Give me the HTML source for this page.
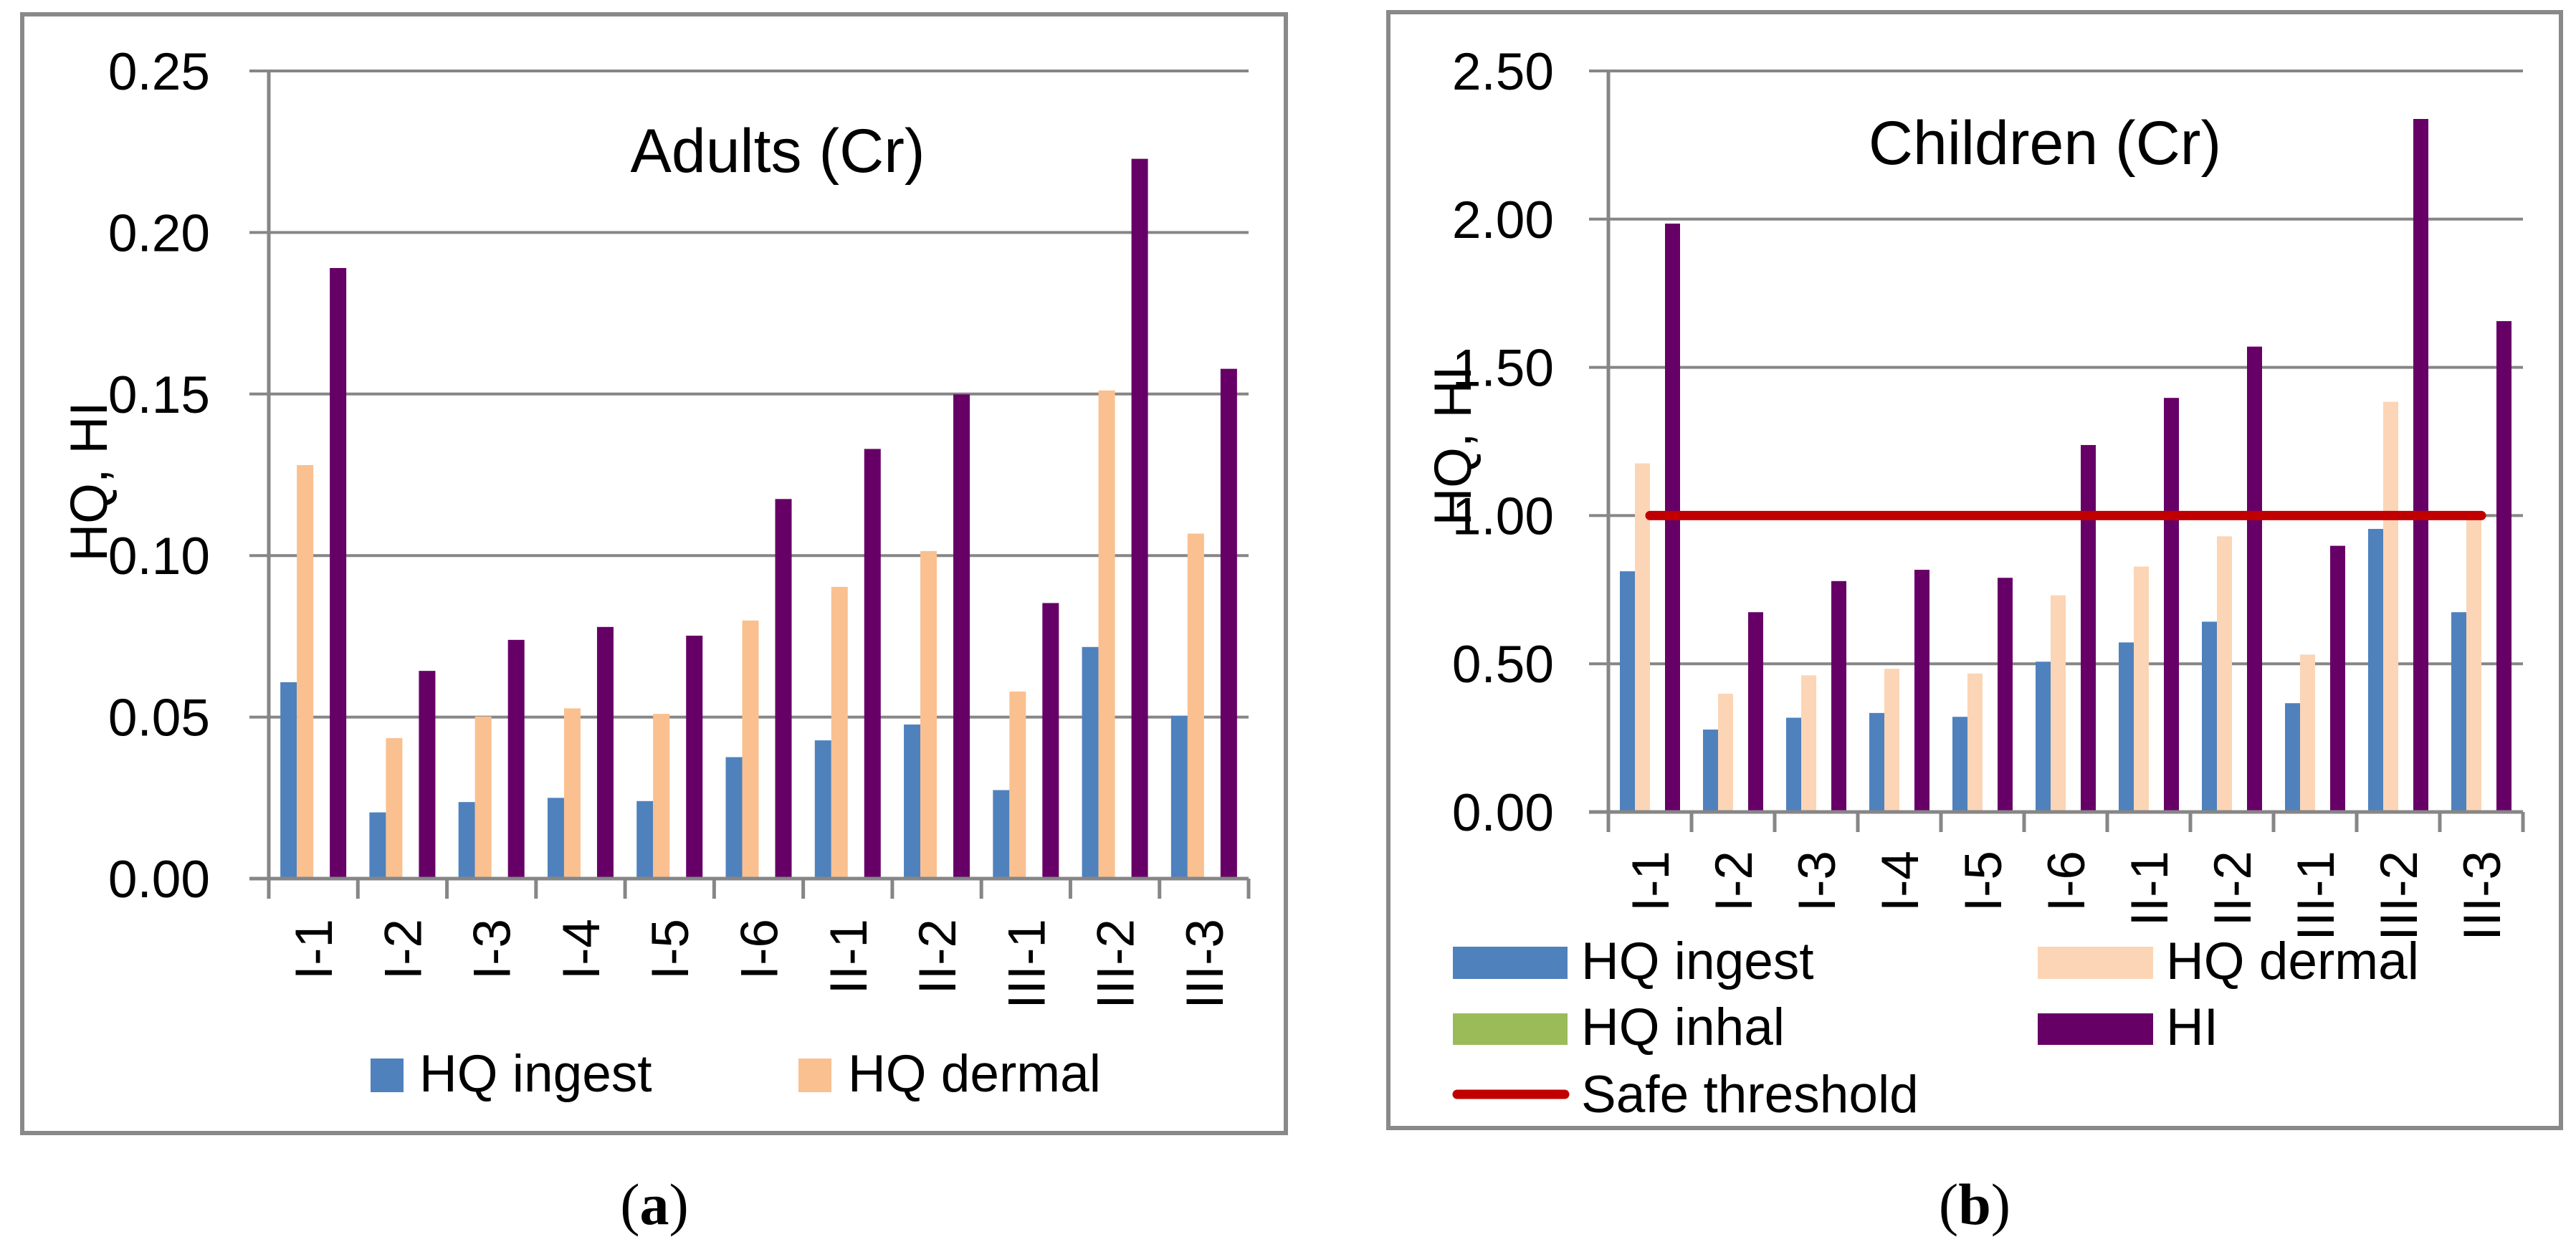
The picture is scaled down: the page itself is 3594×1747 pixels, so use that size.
<!DOCTYPE html>
<html><head><meta charset="utf-8">
<style>
html,body{margin:0;padding:0;background:#fff;}
svg{display:block;font-family:"Liberation Sans",sans-serif;}
</style></head>
<body>
<svg id="chart" width="3594" height="1747" viewBox="0 0 3594 1747" xmlns="http://www.w3.org/2000/svg"></svg>
<script>
const categories = ["I-1","I-2","I-3","I-4","I-5","I-6","II-1","II-2","III-1","III-2","III-3"];
const adultIngest = [0.0608,0.0205,0.0237,0.025,0.024,0.0376,0.0428,0.0477,0.0274,0.0717,0.0504];
const adultDermal = [0.128,0.0435,0.0502,0.0527,0.051,0.0799,0.0903,0.1014,0.0579,0.1511,0.1068];
const adultInhal = [0,0,0,0,0,0,0,0,0,0,0];
const adultHI = [0.189,0.0643,0.0739,0.0779,0.0752,0.1175,0.133,0.1499,0.0853,0.2228,0.1578];
const adultTicks = ["0.00","0.05","0.10","0.15","0.20","0.25"];
const childIngest = [0.812,0.278,0.318,0.334,0.321,0.507,0.572,0.642,0.367,0.955,0.674];
const childDermal = [1.176,0.399,0.461,0.483,0.467,0.731,0.828,0.930,0.531,1.384,1.00];
const childInhal = [0,0,0,0,0,0,0,0,0,0,0];
const childHI = [1.985,0.674,0.779,0.817,0.790,1.238,1.397,1.570,0.898,2.338,1.656];
const childTicks = ["0.00","0.50","1.00","1.50","2.00","2.50"];
const safeThreshold = 1.0;

const NS="http://www.w3.org/2000/svg";
const svg=document.getElementById('chart');
function mk(tag,attrs,parent,text){
  const e=document.createElementNS(NS,tag);
  for(const k in attrs)e.setAttribute(k,attrs[k]);
  if(text!==undefined)e.textContent=text;
  (parent||svg).appendChild(e);return e;
}

function panel(cfg){
  const g=mk('g',{});
  
  
  const fr=mk('rect',{x:cfg.frame[0],y:cfg.frame[1],width:cfg.frame[2]-cfg.frame[0],height:cfg.frame[3]-cfg.frame[1],fill:'none',stroke:'#898989','stroke-width':6},g);
  
  
  const x0=cfg.x0,x1=cfg.x1,yTop=cfg.yTop,yZero=cfg.yZero,max=cfg.max;
  const yS=v=>yZero-(v/max)*(yZero-yTop);
  const cw=(x1-x0)/categories.length;
  const xC=i=>x0+cw*i;
  cfg.ticks.forEach((t,i)=>{
    const v=parseFloat(t);const y=yS(v);
    if(i>0){const gl=mk('line',{x1:x0,x2:x1,y1:y,y2:y,stroke:'#868686','stroke-width':4},g);
      
      }
    const tk=mk('line',{x1:x0-27,x2:x0,y1:y,y2:y,stroke:'#868686','stroke-width':4},g);
    
    
    const tl=mk('text',{x:cfg.tickRight,y:y+26,'font-size':73,'text-anchor':'end',fill:'#000'},g,t);
    
    
  });
  const bw=cfg.bw, off=(cw-4*bw)/2;
  const series=[[cfg.ingest,'#4F81BD','bar-hq-ingest'],[cfg.dermal,cfg.dermalColor,'bar-hq-dermal'],[cfg.inhal,'#9BBB59','bar-hq-inhal'],[cfg.hi,'#660066','bar-hi']];
  series.forEach((s,si)=>{
    s[0].forEach((v,i)=>{
      if(v<=0)return;
      const y=yS(v);
      const r=mk('rect',{x:xC(i)+off+si*bw,y:y,width:bw,height:yZero-y,fill:s[1]},g);
      
      
    });
  });
  const ya=mk('line',{x1:x0,x2:x0,y1:yTop,y2:yZero+2,stroke:'#868686','stroke-width':5},g);
  
  
  const xa=mk('line',{x1:x0-27,x2:x1,y1:yZero,y2:yZero,stroke:'#868686','stroke-width':5},g);
  
  
  for(let i=0;i<=categories.length;i++){
    const t=mk('line',{x1:xC(i),x2:xC(i),y1:yZero,y2:yZero+28,stroke:'#868686','stroke-width':5},g);
    
    
  }
  categories.forEach((c,i)=>{
    const cx=xC(i)+cw/2+26, ty=cfg.labelTop;
    const t=mk('text',{x:0,y:0,'font-size':73,'text-anchor':'end',transform:`translate(${cx},${ty}) rotate(-90)`},g,c);
    
    
  });
  if(cfg.threshold!==undefined){
    const y=yS(cfg.threshold);
    const l=mk('line',{x1:xC(0)+cw/2,x2:xC(categories.length-1)+cw/2,y1:y,y2:y,stroke:'#C00000','stroke-width':13,'stroke-linecap':'round'},g);
    
    
  }
  const ti=mk('text',{x:cfg.titleX,y:cfg.titleY,'font-size':86,'text-anchor':'middle'},g,cfg.title);
  
  
  const yt=mk('text',{x:0,y:0,'font-size':73,'text-anchor':'middle',transform:`translate(${cfg.yTitleX},${cfg.yTitleY}) rotate(-90)`},g,'HQ, HI');
  
  
  return g;
}

panel({name:'adults-chart',frame:[31,20,1794,1581],x0:375,x1:1742,yTop:99,yZero:1226,max:0.25,ticks:adultTicks,tickRight:293,bw:23,
  ingest:adultIngest,dermal:adultDermal,inhal:adultInhal,hi:adultHI,dermalColor:'#FAC090',labelTop:1282,
  title:'Adults (Cr)',titleX:1085,titleY:240,yTitleX:149,yTitleY:672});
panel({name:'children-chart',frame:[1937,17,3573,1574],x0:2244,x1:3520,yTop:99,yZero:1133,max:2.5,ticks:childTicks,tickRight:2168,bw:21,
  ingest:childIngest,dermal:childDermal,inhal:childInhal,hi:childHI,dermalColor:'#FBD5B5',labelTop:1187,threshold:safeThreshold,
  title:'Children (Cr)',titleX:2853,titleY:229,yTitleX:2052,yTitleY:622});

function legRect(x,y,w,h,fill,name,label,tx,ty){
  const r=mk('rect',{x:x,y:y,width:w,height:h,fill:fill});
  
  
  const t=mk('text',{x:tx,y:ty,'font-size':73},svg,label);
  
  
}
legRect(517,1477,46,47,'#4F81BD','legend-hq-ingest-a','HQ ingest',585,1523);
legRect(1114,1477,46,47,'#FAC090','legend-hq-dermal-a','HQ dermal',1183,1523);
legRect(2027,1321,160,45,'#4F81BD','legend-hq-ingest-b','HQ ingest',2206,1366);
legRect(2843,1321,161,45,'#FBD5B5','legend-hq-dermal-b','HQ dermal',3022,1366);
legRect(2027,1414,160,44,'#9BBB59','legend-hq-inhal-b','HQ inhal',2206,1458);
legRect(2843,1414,161,44,'#660066','legend-hi-b','HI',3022,1458);
const sl=mk('line',{x1:2033,x2:2183,y1:1527,y2:1527,stroke:'#C00000','stroke-width':13,'stroke-linecap':'round'});


const st=mk('text',{x:2206,y:1552,'font-size':73},svg,'Safe threshold');



function caption(x,letter,name){
  const t=mk('text',{x:x,y:1708,'font-size':82,'text-anchor':'middle','font-family':'Liberation Serif, serif'});
  
  
  mk('tspan',{},t,'(');mk('tspan',{'font-weight':'bold'},t,letter);mk('tspan',{},t,')');
}
caption(913,'a','caption-a');
caption(2755,'b','caption-b');
</script>
</body></html>
